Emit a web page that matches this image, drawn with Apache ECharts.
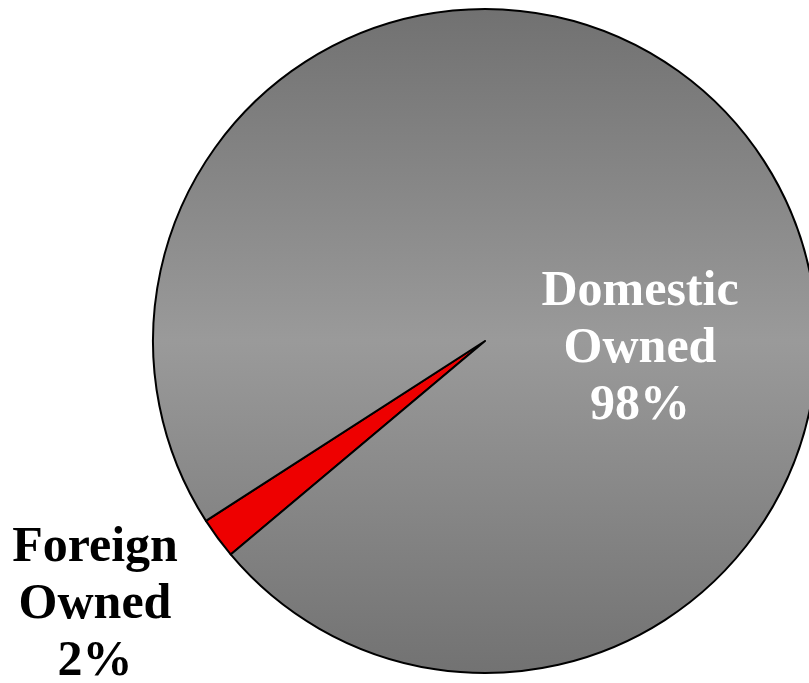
<!DOCTYPE html>
<html>
<head>
<meta charset="utf-8">
<script src="https://cdn.jsdelivr.net/npm/echarts@6/dist/echarts.min.js"></script>
<style>
  html, body { margin: 0; padding: 0; background: #ffffff; }
  #chart { width: 809px; height: 683px; }
</style>
</head>
<body>
<div id="chart"></div>
<script>
// Ownership shares (percent)
const categories = ['Foreign Owned', 'Domestic Owned'];
const shares = [2, 98];

const labelFont = '"Liberation Serif", "Times New Roman", serif';

const sliceStyles = [
  { color: '#ee0000' },
  {
    color: new echarts.graphic.LinearGradient(0, 0, 0, 1, [
      { offset: 0, color: '#717171' },
      { offset: 0.5, color: '#9a9a9a' },
      { offset: 1, color: '#727272' }
    ])
  }
];
const labelColors = ['#000000', '#ffffff'];
// label anchor points (px) for each slice
const labelAnchors = [[95, 605], [640, 349]];

const chart = echarts.init(document.getElementById('chart'), null, { renderer: 'canvas' });

chart.setOption({
  animation: false,
  series: [{
    type: 'pie',
    center: [485, 341],
    radius: 332,
    startAngle: 220,
    clockwise: true,
    silent: true,
    avoidLabelOverlap: false,
    itemStyle: { borderColor: '#000000', borderWidth: 2 },
    label: {
      show: true,
      position: 'inside',
      fontFamily: labelFont,
      fontWeight: 'bold',
      fontSize: 50,
      lineHeight: 57,
      align: 'center',
      formatter: p => p.name.replace(' ', '\n') + '\n' + p.value + '%'
    },
    labelLine: { show: false },
    labelLayout: p => ({
      x: labelAnchors[p.dataIndex][0],
      y: labelAnchors[p.dataIndex][1],
      align: 'center',
      verticalAlign: 'middle'
    }),
    data: categories.map((name, i) => ({
      name,
      value: shares[i],
      itemStyle: sliceStyles[i],
      label: { color: labelColors[i] }
    }))
  }]
});
</script>
</body>
</html>
